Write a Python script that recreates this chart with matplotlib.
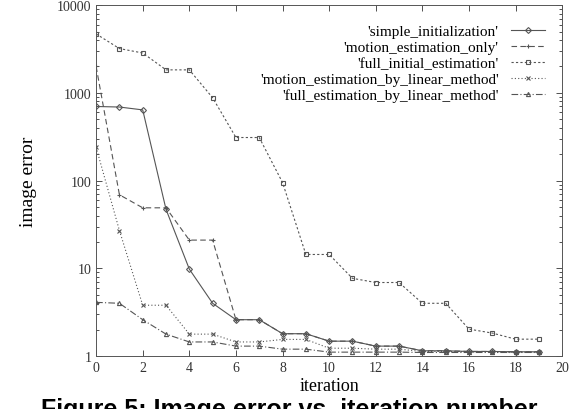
import numpy as np
import matplotlib
matplotlib.use('Agg')
import matplotlib.pyplot as plt
from matplotlib.ticker import LogLocator, NullFormatter, MultipleLocator

plt.rcParams['font.family'] = 'Liberation Serif'

# iterations 0..19
it = np.arange(20)

labels = ["'simple_initialization'",
          "'motion_estimation_only'",
          "'full_initial_estimation'",
          "'motion_estimation_by_linear_method'",
          "'full_estimation_by_linear_method'"]

simple_init = [700, 690, 640, 47, 9.8, 4.0, 2.6, 2.6, 1.8, 1.8,
               1.48, 1.48, 1.3, 1.3, 1.15, 1.15, 1.13, 1.13, 1.12, 1.12]
motion_only = [2000, 69, 49, 49, 21, 21, 2.6, 2.6, 1.8, 1.8,
               1.48, 1.48, 1.3, 1.3, 1.15, 1.15, 1.13, 1.13, 1.12, 1.12]
full_init = [4700, 3200, 2850, 1830, 1830, 880, 310, 310, 95, 14.4,
             14.4, 7.7, 6.9, 6.9, 4.0, 4.0, 2.03, 1.83, 1.56, 1.56]
motion_lin = [240, 27, 3.8, 3.8, 1.78, 1.78, 1.45, 1.45, 1.55, 1.55,
              1.23, 1.23, 1.2, 1.2, 1.13, 1.13, 1.12, 1.12, 1.11, 1.11]
full_lin = [4.1, 4.0, 2.6, 1.78, 1.45, 1.45, 1.3, 1.3, 1.2, 1.2,
            1.11, 1.11, 1.11, 1.11, 1.1, 1.1, 1.1, 1.1, 1.1, 1.1]

series = [simple_init, motion_only, full_init, motion_lin, full_lin]
styles = ['-', (0, (5, 3)), (0, (2, 2)), (0, (1, 2)), (0, (6, 2, 1, 2))]
markers = ['D', '+', 's', 'x', '^']

fig = plt.figure(figsize=(5.79, 4.10), dpi=100)
ax = fig.add_axes([0.166, 0.129, 0.805, 0.856])

for y, lab, ls, mk in zip(series, labels, styles, markers):
    ax.plot(it, y, linestyle=ls, marker=mk, color='#555555', lw=0.8,
            markersize=3, markerfacecolor='none', markeredgewidth=0.8, label=lab)

ax.set_yscale('log')
ax.set_xlim(0, 20)
ax.set_ylim(1, 10000)
ax.xaxis.set_major_locator(MultipleLocator(2))
ax.yaxis.set_major_locator(LogLocator(base=10, numticks=10))
ax.yaxis.set_minor_locator(LogLocator(base=10, subs=np.arange(2, 10), numticks=10))
ax.yaxis.set_minor_formatter(NullFormatter())
ax.set_yticks([1, 10, 100, 1000, 10000])
ax.set_yticklabels(['1', '10', '100', '1000', '10000'])
ax.tick_params(direction='in', which='both', top=True, right=True,
               labelsize=10, colors='#333333', width=0.6)
ax.tick_params(which='major', length=4)
ax.tick_params(which='minor', length=2)
for s in ax.spines.values():
    s.set_linewidth(0.7)
    s.set_color('#555555')

ax.set_xlabel('iteration', fontsize=13, labelpad=2)
ax.set_ylabel('image error', fontsize=14, labelpad=14)

leg = ax.legend(loc='upper right', bbox_to_anchor=(0.985, 0.975), frameon=False,
                markerfirst=False, fontsize=11, handlelength=2.2,
                labelspacing=0.15, handletextpad=0.8, borderpad=0.2)

fig.text(0.5, 0.03, 'Figure 5: Image error vs. iteration number',
         ha='center', va='top', fontsize=18, fontweight='bold',
         family='Liberation Sans')

fig.savefig('out.png', dpi=100)
